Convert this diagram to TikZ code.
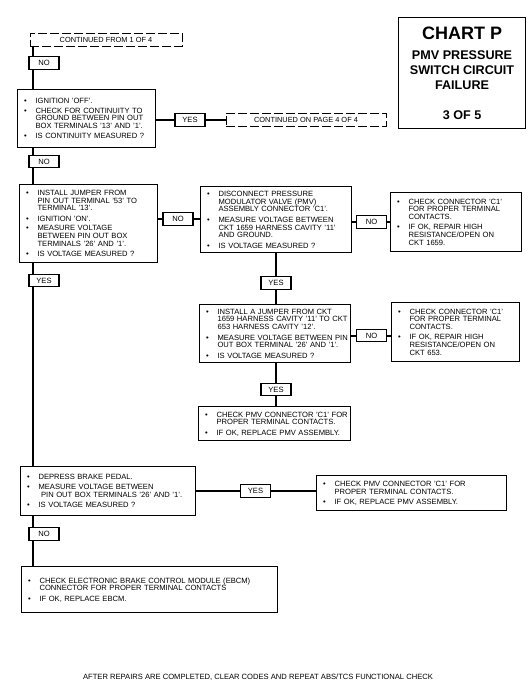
\documentclass[tikz,border=0pt]{standalone}
\usepackage{fontspec}
\setmainfont{Liberation Sans}
\usetikzlibrary{positioning}

\newcommand{\itm}[1]{\par\noindent\makebox[15pt][l]{\hspace{3.5pt}\textbullet}\begin{tabular}[t]{@{}l@{}}#1\end{tabular}\par\vspace{1.8pt}}

\begin{document}
\begin{tikzpicture}[x=1pt,y=-1pt]
\tikzset{qbox/.style={draw,line width=1.1pt,fill=white,anchor=north west,inner xsep=3pt,inner ysep=1pt,font=\fontsize{7.6}{7.7}\selectfont}}
\tikzset{tag/.style={draw,line width=1.1pt,fill=white,minimum width=30pt,minimum height=12.5pt,inner sep=0pt,font=\fontsize{7.6}{7.6}\selectfont}}
\tikzset{dbox/.style={draw,dash pattern=on 9pt off 3pt,line width=0.9pt,fill=white,minimum height=13pt,inner sep=0pt,font=\fontsize{7.4}{7.6}\selectfont}}
\tikzset{link/.style={line width=2pt}}

\useasboundingbox (0,0) rectangle (528,688);

\node[draw,line width=1.1pt,anchor=north west,minimum width=127pt,minimum height=111pt,align=center,font=\fontsize{12.6}{15}\bfseries] (chart) at (398,17) {{\fontsize{18}{18}\selectfont CHART P}\\[5pt] PMV PRESSURE\\ SWITCH CIRCUIT\\ FAILURE\\[15pt] 3 OF 5};

\node[dbox,minimum width=152pt] (cont1) at (106,39.5) {CONTINUED FROM 1 OF 4};
\node[tag] (no1) at (44,63) {NO};
\node[qbox,text width=132pt,minimum height=58pt] (q1) at (17,89) {
\itm{IGNITION 'OFF'.}
\itm{CHECK FOR CONTINUITY TO\\GROUND BETWEEN PIN OUT\\BOX TERMINALS '13' AND '1'.}
\itm{IS CONTINUITY MEASURED ?}};
\node[tag] (yes1) at (190,120) {YES};
\node[dbox,minimum width=160pt] (cont2) at (306,119.5) {CONTINUED ON PAGE 4 OF 4};
\node[tag] (no2) at (44,161.5) {NO};

\node[qbox,text width=132pt,minimum height=78pt] (q2) at (19,184) {
\itm{INSTALL JUMPER FROM\\PIN OUT TERMINAL '53' TO\\TERMINAL '13'.}
\itm{IGNITION 'ON'.}
\itm{MEASURE VOLTAGE\\BETWEEN PIN OUT BOX\\TERMINALS '26' AND '1'.}
\itm{IS VOLTAGE MEASURED ?}};
\node[tag] (no3) at (178,219) {NO};
\node[qbox,text width=145pt,minimum height=66pt] (q3) at (200,186) {
\itm{DISCONNECT PRESSURE\\MODULATOR VALVE (PMV)\\ASSEMBLY CONNECTOR 'C1'.}
\itm{MEASURE VOLTAGE BETWEEN\\CKT 1659 HARNESS CAVITY '11'\\AND GROUND.}
\itm{IS VOLTAGE MEASURED ?}};
\node[tag] (no4) at (371.5,222) {NO};
\node[qbox,text width=125pt,minimum height=59pt] (q4) at (390,192) {
\itm{CHECK CONNECTOR 'C1'\\FOR PROPER TERMINAL\\CONTACTS.}
\itm{IF OK, REPAIR HIGH\\RESISTANCE/OPEN ON\\CKT 1659.}};

\node[tag] (yes2) at (44,280.5) {YES};
\node[tag] (yes3) at (276,283) {YES};
\node[qbox,text width=145pt,minimum height=58pt] (q5) at (199,304) {
\itm{INSTALL A JUMPER FROM CKT\\1659 HARNESS CAVITY '11' TO CKT\\653 HARNESS CAVITY '12'.}
\itm{MEASURE VOLTAGE BETWEEN PIN\\OUT BOX TERMINAL '26' AND '1'.}
\itm{IS VOLTAGE MEASURED ?}};
\node[tag] (no5) at (371.5,335.5) {NO};
\node[qbox,text width=122pt,minimum height=59pt] (q6) at (391,302) {
\itm{CHECK CONNECTOR 'C1'\\FOR PROPER TERMINAL\\CONTACTS.}
\itm{IF OK, REPAIR HIGH\\RESISTANCE/OPEN ON\\CKT 653.}};
\node[tag] (yes4) at (276,389.5) {YES};
\node[qbox,text width=146pt,minimum height=34pt] (q7) at (198,406) {
\itm{CHECK PMV CONNECTOR 'C1' FOR\\PROPER TERMINAL CONTACTS.}
\itm{IF OK, REPLACE PMV ASSEMBLY.}};

\node[qbox,text width=169pt,minimum height=49pt] (q8) at (20,466) {
\itm{DEPRESS BRAKE PEDAL.}
\itm{MEASURE VOLTAGE BETWEEN\\\ PIN OUT BOX TERMINALS '26' AND '1'.}
\itm{IS VOLTAGE MEASURED ?}};
\node[tag] (yes5) at (255.5,491) {YES};
\node[qbox,text width=184pt,minimum height=35pt] (q9) at (316,475) {
\itm{CHECK PMV CONNECTOR 'C1' FOR\\PROPER TERMINAL CONTACTS.}
\itm{IF OK, REPLACE PMV ASSEMBLY.}};
\node[tag] (no6) at (44,534) {NO};
\node[qbox,text width=250pt,minimum height=46pt] (q10) at (21,566) {
\itm{CHECK ELECTRONIC BRAKE CONTROL MODULE (EBCM)\\CONNECTOR FOR PROPER TERMINAL CONTACTS}
\itm{IF OK, REPLACE EBCM.}};

\node[font=\fontsize{7.6}{8}\selectfont] (note) at (258,677) {AFTER REPAIRS ARE COMPLETED, CLEAR CODES AND REPEAT ABS/TCS FUNCTIONAL CHECK};

% main line
\coordinate (spine) at (33,0);
\foreach \a/\b in {cont1/no1,no1/q1,q1/no2,no2/q2,q2/yes2,yes2/q8,q8/no6,no6/q10}
  \draw[link] (\a.south -| spine) -- (\b.north -| spine);

\draw[link] (q1.east |- yes1) -- (yes1) -- (cont2.west |- yes1);
\draw[link] (q2.east |- no3) -- (no3) -- (q3.west |- no3);
\draw[link] (q3.east |- no4) -- (no4) -- (q4.west |- no4);
\draw[link] (q3.south -| yes3) -- (yes3) -- (q5.north -| yes3);
\draw[link] (q5.east |- no5) -- (no5) -- (q6.west |- no5);
\draw[link] (q5.south -| yes4) -- (yes4) -- (q7.north -| yes4);
\draw[link] (q8.east |- yes5) -- (yes5) -- (q9.west |- yes5);

\end{tikzpicture}
\end{document}
